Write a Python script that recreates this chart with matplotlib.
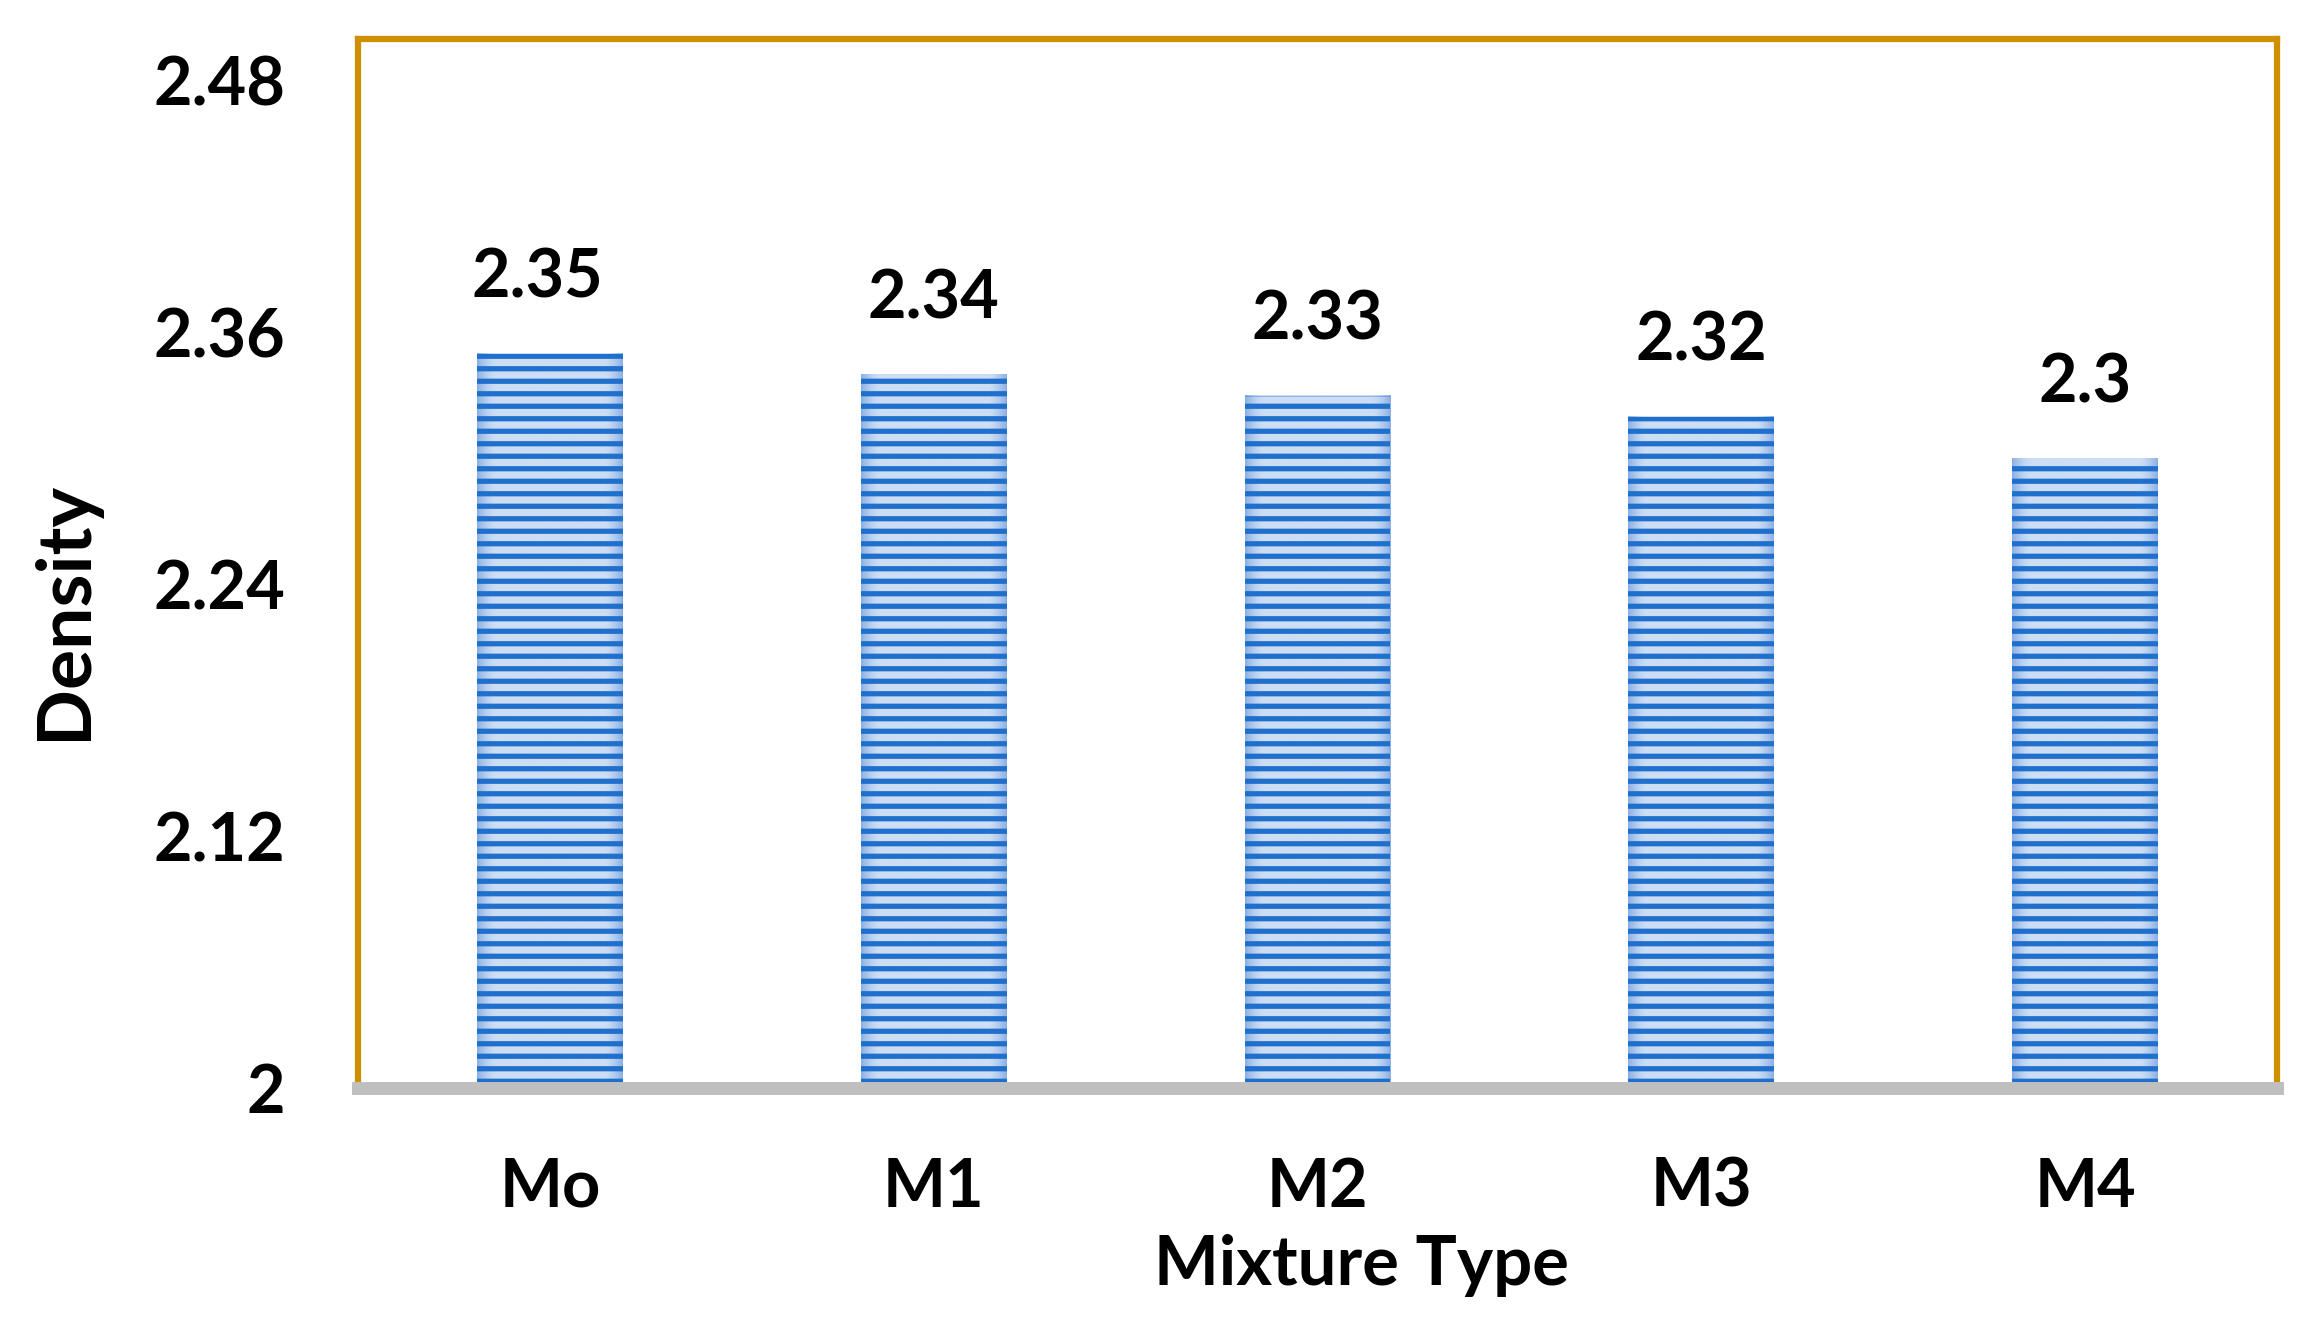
import matplotlib
matplotlib.use("Agg")
import matplotlib.pyplot as plt
import numpy as np

categories = ["Mo", "M1", "M2", "M3", "M4"]
density = [2.35, 2.34, 2.33, 2.32, 2.30]
label_texts = ["2.35", "2.34", "2.33", "2.32", "2.3"]
label_dx_pt = [-6, 0, 0, 0, 0]
yticks = [2.0, 2.12, 2.24, 2.36, 2.48]
ytick_labels = ["2", "2.12", "2.24", "2.36", "2.48"]

plt.rcParams['font.family'] = ['Lato', 'DejaVu Sans']
plt.rcParams['font.weight'] = 'bold'
plt.rcParams['hatch.linewidth'] = 2.5

DPI = 150
fig = plt.figure(figsize=(2313 / DPI, 1335 / DPI), dpi=DPI)
ax = fig.add_axes([358 / 2313, 1 - 1088 / 1335, (2277 - 358) / 2313, (1088 - 39) / 1335])

ax.set_xlim(-0.5, len(categories) - 0.5)
ax.set_ylim(2.0, 2.5)

x = list(range(len(categories)))
# base bars (for geometry), gradient fill, then hatch overlay
base = ax.bar(x, density, width=0.38, color='#c0d5f0', linewidth=0, zorder=1)

# horizontal gradient: darker toward the bar edges
u = np.linspace(-1, 1, 200)
w = np.clip((np.abs(u) - 0.75) / 0.25, 0, 1) ** 1.5
light = np.array([0.80, 0.87, 0.96])
edge = np.array([0.55, 0.69, 0.89])
grad = (1 - w)[:, None] * light + w[:, None] * edge
grad_img = grad[None, :, :]
ymin = ax.get_ylim()[0]
for p in base.patches:
    x0, y0 = p.get_x(), max(p.get_y(), ymin)
    ax.imshow(grad_img, extent=(x0, x0 + p.get_width(), y0, p.get_y() + p.get_height()),
              aspect='auto', zorder=1.5, interpolation='bilinear')

bars = ax.bar(x, density, width=0.38, color='none',
              edgecolor='#1f6fcc', linewidth=0, hatch='--', zorder=2)

ax.set_xlim(-0.5, len(categories) - 0.5)
ax.set_ylim(2.0, 2.5)
ax.set_yticks(yticks)
ax.set_yticklabels(ytick_labels)
ax.set_xticks(x)
ax.set_xticklabels(categories)
ax.tick_params(axis='both', length=0, labelsize=32)
ax.tick_params(axis='y', pad=35)
ax.tick_params(axis='x', pad=33)
for lab in ax.get_xticklabels() + ax.get_yticklabels():
    lab.set_fontweight('bold')

for xi, v, t, dx in zip(x, density, label_texts, label_dx_pt):
    ax.annotate(t, (xi, v), xytext=(dx, 21), textcoords='offset points',
                ha='center', va='bottom', fontsize=32, fontweight='bold')

ax.text(0.523, -0.169, "Mixture Type", transform=ax.transAxes,
        ha='center', va='center', fontsize=33, fontweight='bold')
ax.text(-0.153, 0.455, "Density", transform=ax.transAxes, rotation=90,
        ha='center', va='center', fontsize=36, fontweight='bold')

for s in ['left', 'right', 'top']:
    ax.spines[s].set_color('#cf9000')
    ax.spines[s].set_linewidth(3.0)
ax.spines['bottom'].set_color('#bfbfbf')
ax.spines['bottom'].set_linewidth(6.2)
ax.spines['bottom'].set_zorder(5)

fig.savefig("out.png", dpi=DPI, facecolor='white')
